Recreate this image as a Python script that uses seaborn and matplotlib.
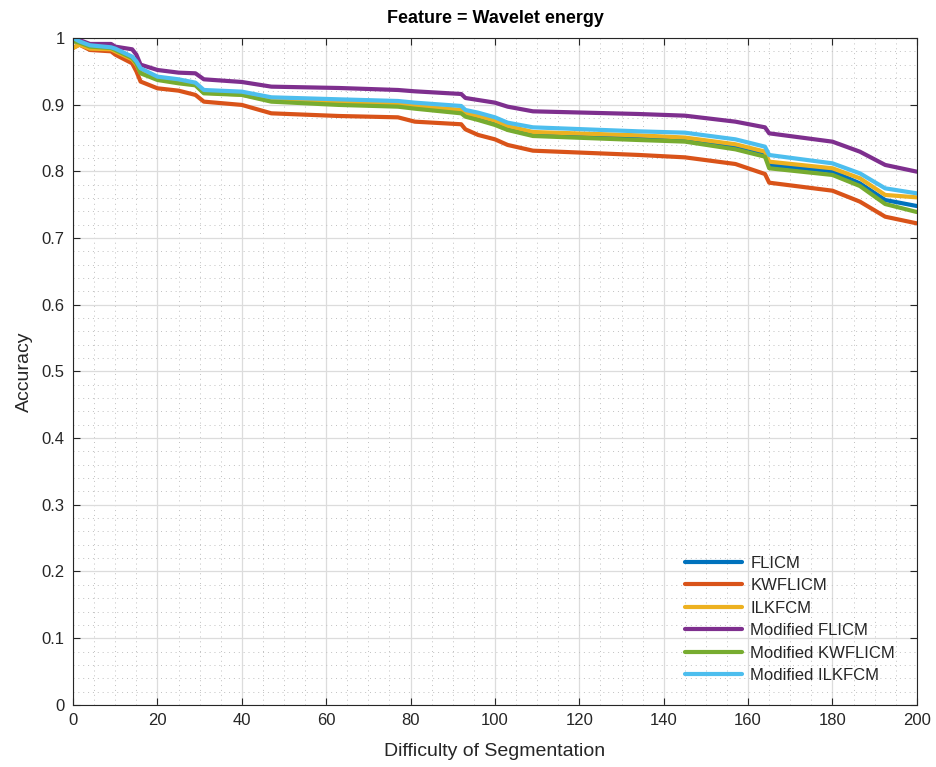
import numpy as np
import pandas as pd
import matplotlib
matplotlib.use("Agg")
import matplotlib.pyplot as plt
import seaborn as sns
from matplotlib.ticker import MultipleLocator

x = [0, 1.5, 4, 9, 10, 14, 15, 16, 20, 25, 29, 31, 40, 47, 63, 77, 81, 92, 93, 96,
     100, 103, 109, 134, 145, 157, 164, 165, 180, 186.5, 192.5, 200]

flicm = [0.998, 0.994, 0.988, 0.986, 0.983, 0.971, 0.963, 0.949, 0.939, 0.934, 0.931, 0.919,
         0.917, 0.906, 0.902, 0.899, 0.896, 0.889, 0.884, 0.879, 0.872, 0.864, 0.855, 0.849,
         0.847, 0.836, 0.825, 0.8096, 0.800, 0.782, 0.757, 0.748]
kwflicm = [0.985, 0.99, 0.982, 0.980, 0.975, 0.962, 0.950, 0.9346, 0.9245, 0.921, 0.9146, 0.9045,
           0.8996, 0.887, 0.883, 0.881, 0.8745, 0.8706, 0.863, 0.8546, 0.848, 0.8396, 0.831, 0.8246,
           0.821, 0.811, 0.796, 0.783, 0.771, 0.7546, 0.732, 0.722]
ilkfcm = [0.985, 0.99, 0.984, 0.983, 0.980, 0.968, 0.960, 0.948, 0.940, 0.935, 0.930, 0.918,
          0.915, 0.906, 0.903, 0.901, 0.898, 0.892, 0.887, 0.883, 0.876, 0.868, 0.859, 0.854,
          0.8507, 0.8406, 0.8296, 0.8145, 0.8046, 0.7896, 0.7646, 0.761]
mod_flicm = [1.0, 0.997, 0.991, 0.991, 0.987, 0.983, 0.975, 0.96, 0.952, 0.948, 0.947, 0.938,
             0.934, 0.927, 0.925, 0.922, 0.920, 0.916, 0.910, 0.907, 0.903, 0.897, 0.890, 0.886,
             0.8835, 0.8745, 0.866, 0.857, 0.8445, 0.8295, 0.8096, 0.7995]
mod_kwflicm = [0.995, 0.993, 0.987, 0.985, 0.982, 0.970, 0.962, 0.947, 0.937, 0.932, 0.929, 0.917,
               0.9146, 0.9045, 0.8996, 0.897, 0.894, 0.887, 0.882, 0.877, 0.8696, 0.862, 0.853, 0.847,
               0.8446, 0.833, 0.822, 0.8046, 0.7946, 0.778, 0.751, 0.739]
mod_ilkfcm = [1.0, 0.995, 0.989, 0.986, 0.984, 0.972, 0.965, 0.9545, 0.942, 0.938, 0.933, 0.922,
              0.9195, 0.911, 0.908, 0.9055, 0.903, 0.898, 0.892, 0.888, 0.881, 0.873, 0.866, 0.860,
              0.858, 0.848, 0.837, 0.8245, 0.812, 0.797, 0.7745, 0.767]

names = ["FLICM", "KWFLICM", "ILKFCM", "Modified FLICM", "Modified KWFLICM", "Modified ILKFCM"]
series = [flicm, kwflicm, ilkfcm, mod_flicm, mod_kwflicm, mod_ilkfcm]
colors = ["#0072BD", "#D95319", "#EDB120", "#7E2F8E", "#77AC30", "#4DBEEE"]

df = pd.concat([pd.DataFrame({"x": x, "y": s, "method": n}) for n, s in zip(names, series)],
               ignore_index=True)

sns.set_theme(style="white")
plt.rcParams["font.family"] = ["Liberation Sans", "DejaVu Sans"]

fig = plt.figure(figsize=(9.37, 7.67), dpi=100)
ax = fig.add_axes([0.078, 0.081, 0.9005, 0.8695])

sns.lineplot(data=df, x="x", y="y", hue="method", hue_order=names,
             palette=dict(zip(names, colors)), linewidth=3, ax=ax,
             estimator=None, sort=False)

ax.set_xlim(0, 200)
ax.set_ylim(0, 1)
ax.xaxis.set_major_locator(MultipleLocator(20))
ax.xaxis.set_minor_locator(MultipleLocator(5))
ax.yaxis.set_major_locator(MultipleLocator(0.1))
ax.yaxis.set_minor_locator(MultipleLocator(0.02))
ax.set_yticks(np.arange(0, 1.01, 0.1))
ax.set_yticklabels(["0"] + [f"{v:.1f}" for v in np.arange(0.1, 0.95, 0.1)] + ["1"])

ax.grid(which="major", color="#dcdcdc", linewidth=0.9, linestyle="-")
ax.grid(which="minor", color="#c0c0c0", linewidth=0.7, linestyle=(0, (1, 4)))
ax.set_axisbelow(True)

for sp in ax.spines.values():
    sp.set_color("#262626")
    sp.set_linewidth(0.8)
ax.tick_params(which="major", direction="in", length=5, width=0.8, colors="#262626",
               labelsize=12, top=True, right=True, bottom=True, left=True, pad=6)
ax.tick_params(which="minor", length=0, top=False, right=False)
for lab in ax.get_xticklabels() + ax.get_yticklabels():
    lab.set_color("#262626")

ax.set_xlabel("Difficulty of Segmentation", fontsize=14, color="#262626", labelpad=11)
ax.set_ylabel("Accuracy", fontsize=14, color="#262626", labelpad=6)
ax.set_title("Feature = Wavelet energy", fontsize=13, fontweight="bold", color="black", pad=11)

leg = ax.legend(loc="lower right", frameon=False, fontsize=12, handlelength=3.4,
                handletextpad=0.5, labelspacing=0.45, borderaxespad=0.9)
for line in leg.get_lines():
    line.set_linewidth(3)

fig.savefig("out.png", dpi=100)
